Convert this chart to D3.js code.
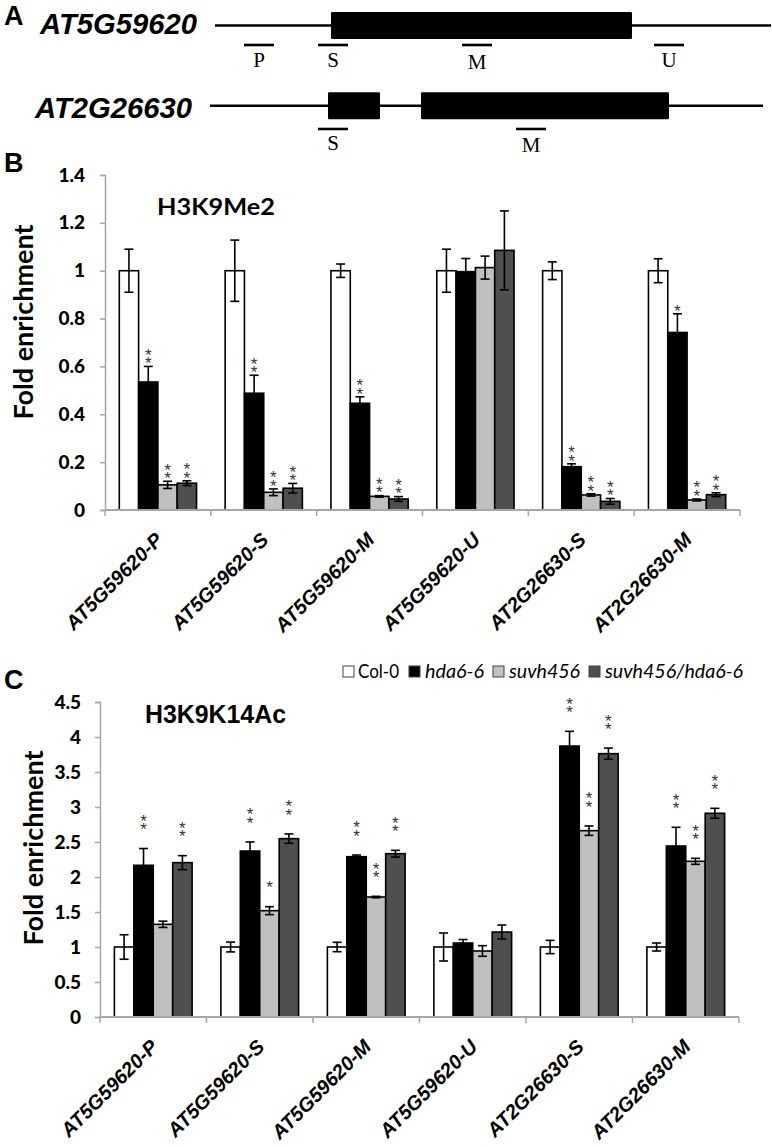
<!DOCTYPE html>
<html><head><meta charset="utf-8">
<script src="https://cdn.jsdelivr.net/npm/d3@7"></script>
<style>
html,body{margin:0;padding:0;background:#fff;}
svg{display:block;}
</style></head>
<body>
<script>
// ---------- DATA ----------
const categories = ["AT5G59620-P","AT5G59620-S","AT5G59620-M","AT5G59620-U","AT2G26630-S","AT2G26630-M"];
const series = ["Col-0","hda6-6","suvh456","suvh456/hda6-6"];

// Panel B: H3K9Me2
const bCol0   = [1.0, 1.0, 1.0, 1.0, 1.0, 1.0];
const bHda6   = [0.535, 0.488, 0.446, 0.996, 0.181, 0.742];
const bSuvh   = [0.105, 0.074, 0.057, 1.013, 0.063, 0.042];
const bDouble = [0.112, 0.091, 0.046, 1.085, 0.036, 0.064];
const bCol0Err   = [0.09, 0.128, 0.028, 0.09, 0.037, 0.05];
const bHda6Err   = [0.065, 0.075, 0.027, 0.055, 0.012, 0.078];
const bSuvhErr   = [0.015, 0.014, 0.003, 0.048, 0.005, 0.004];
const bDoubleErr = [0.01, 0.02, 0.01, 0.165, 0.012, 0.008];
const bStars = [[0,2,2,2],[0,2,2,2],[0,2,2,2],[0,0,0,0],[0,2,2,2],[0,1,2,2]];
const bTicks = [0, 0.2, 0.4, 0.6, 0.8, 1, 1.2, 1.4];

// Panel C: H3K9K14Ac
const cCol0   = [1.0, 1.0, 1.0, 1.0, 1.0, 1.0];
const cHda6   = [2.167, 2.371, 2.29, 1.057, 3.871, 2.443];
const cSuvh   = [1.324, 1.519, 1.714, 0.943, 2.662, 2.224];
const cDouble = [2.205, 2.548, 2.333, 1.214, 3.762, 2.91];
const cCol0Err   = [0.175, 0.07, 0.067, 0.2, 0.095, 0.057];
const cHda6Err   = [0.24, 0.13, 0.024, 0.05, 0.21, 0.267];
const cSuvhErr   = [0.045, 0.057, 0.01, 0.076, 0.067, 0.043];
const cDoubleErr = [0.1, 0.067, 0.048, 0.1, 0.08, 0.071];
const cStars = [[0,2,0,2],[0,2,1,2],[0,2,2,2],[0,0,0,0],[0,2,2,2],[0,2,2,2]];
const cTicks = [0, 0.5, 1, 1.5, 2, 2.5, 3, 3.5, 4, 4.5];

// Panel A: gene models (relative positions along the locus)
const gene1Name = "AT5G59620";
const gene1Span = [5, 561];
const gene1Exons = [[121, 422]];
const gene1Probes = [["P", 34, 64], ["S", 108, 138], ["M", 252, 282], ["U", 444, 474]];
const gene2Name = "AT2G26630";
const gene2Span = [0, 553];
const gene2Exons = [[118, 170], [211, 459]];
const gene2Probes = [["S", 108, 138], ["M", 306, 336]];

// ---------- STYLE ----------
const fills = ["#ffffff", "#000000", "#c0c0c0", "#4f4f4f"];
const W = 772, H = 1147;
const svg = d3.select("body").append("svg").attr("width", W).attr("height", H);

const bold = "'Liberation Sans', Arial, sans-serif";
const calib = "Lato, 'Open Sans', sans-serif";

// panel letters
[["A", 4, 25], ["B", 4, 172], ["C", 4, 689]].forEach(([t, x, y]) => {
  svg.append("text").attr("x", x).attr("y", y).text(t)
    .attr("font-family", bold).attr("font-weight", "bold").attr("font-size", 27);
});

// ---------- PANEL A ----------
const xA = d3.scaleLinear().domain([0, 560]).range([210, 770]);
function gene(name, labelX, baseline, lineY, span, exons, probes, probeY, probeLabelY) {
  svg.append("text").attr("x", labelX).attr("y", baseline).text(name)
    .attr("font-family", bold).attr("font-weight", "bold").attr("font-style", "italic")
    .attr("font-size", 29).attr("textLength", 157).attr("lengthAdjust", "spacingAndGlyphs");
  svg.append("line").attr("x1", xA(span[0])).attr("x2", xA(span[1]))
    .attr("y1", lineY).attr("y2", lineY).attr("stroke", "#000").attr("stroke-width", 2.4);
  svg.selectAll(null).data(exons).enter().append("rect")
    .attr("x", d => xA(d[0])).attr("width", d => xA(d[1]) - xA(d[0]))
    .attr("y", lineY - 13.5).attr("height", 27).attr("rx", 1.2).attr("fill", "#000");
  const g = svg.append("g");
  g.selectAll("line").data(probes).enter().append("line")
    .attr("x1", d => xA(d[1])).attr("x2", d => xA(d[2]))
    .attr("y1", probeY).attr("y2", probeY).attr("stroke", "#000").attr("stroke-width", 2.6);
  g.selectAll("text").data(probes).enter().append("text")
    .attr("x", d => (xA(d[1]) + xA(d[2])) / 2).attr("y", d => probeLabelY + (d[0] === "M" ? 2 : 0))
    .attr("text-anchor", "middle").text(d => d[0])
    .attr("font-family", "'Liberation Serif', 'Times New Roman', serif").attr("font-size", 21);
}
gene(gene1Name, 40, 34, 25.5, gene1Span, gene1Exons, gene1Probes, 45, 67);
gene(gene2Name, 35, 117.5, 105.7, gene2Span, gene2Exons, gene2Probes, 129, 149.5);

// ---------- BAR PANELS ----------
function barPanel(opt) {
  const {vals, errs, stars, ticks, yDom, yRange, xRange, title, titleX, titleY, titleFont, titleSize, titleLen,
         yTitleX, yTitleY, starGap, tickPad, labelDY} = opt;
  const y = d3.scaleLinear().domain(yDom).range(yRange);
  const x = d3.scaleBand().domain(categories).range(xRange).padding(0);
  const xs = d3.scaleBand().domain(series).range([0, x.bandwidth()]).paddingInner(0).paddingOuter(0.74);
  const y0 = y(0);
  const g = svg.append("g");

  // y axis
  const ya = g.append("g").attr("transform", `translate(${xRange[0]},0)`)
    .call(d3.axisLeft(y).tickValues(ticks).tickSize(5).tickPadding(tickPad).tickFormat(d3.format("")));
  ya.select(".domain").attr("stroke", "#a6a6a6").attr("stroke-width", 1.5);
  ya.selectAll(".tick line").attr("stroke", "#a6a6a6").attr("stroke-width", 1.5);
  ya.selectAll(".tick text").attr("font-family", calib).attr("font-weight", "900")
    .attr("font-size", 19).attr("fill", "#000");

  // bars
  const rows = categories.map((c, i) => series.map((s, j) => ({
    c, s, j, v: vals[j][i], e: errs[j][i], n: stars[i][j]
  })));
  const flat = rows.flat();
  g.selectAll("rect.bar").data(flat).enter().append("rect").attr("class", "bar")
    .attr("x", d => x(d.c) + xs(d.s)).attr("width", xs.bandwidth())
    .attr("y", d => y(d.v)).attr("height", d => y0 - y(d.v))
    .attr("fill", d => fills[d.j]).attr("stroke", "#000").attr("stroke-width", 1.6);

  // x axis
  g.append("line").attr("x1", xRange[0]).attr("x2", xRange[1]).attr("y1", y0).attr("y2", y0)
    .attr("stroke", "#a6a6a6").attr("stroke-width", 2);
  const bounds = categories.map(c => x(c)).concat([xRange[1]]);
  g.selectAll("line.xt").data(bounds).enter().append("line").attr("class", "xt")
    .attr("x1", d => d).attr("x2", d => d).attr("y1", y0).attr("y2", y0 + 6)
    .attr("stroke", "#a6a6a6").attr("stroke-width", 1.5);

  // error bars
  const eb = g.selectAll("g.eb").data(flat).enter().append("g").attr("class", "eb")
    .attr("stroke", "#000").attr("stroke-width", 1.6);
  const cx = d => x(d.c) + xs(d.s) + xs.bandwidth() / 2;
  eb.append("line").attr("x1", cx).attr("x2", cx).attr("y1", d => y(d.v + d.e)).attr("y2", d => y(d.v - d.e));
  eb.append("line").attr("x1", d => cx(d) - 4.5).attr("x2", d => cx(d) + 4.5)
    .attr("y1", d => y(d.v + d.e)).attr("y2", d => y(d.v + d.e));
  eb.append("line").attr("x1", d => cx(d) - 4.5).attr("x2", d => cx(d) + 4.5)
    .attr("y1", d => y(d.v - d.e)).attr("y2", d => y(d.v - d.e));

  // significance stars: one text per bar; run rotated upward, each glyph rotated back upright
  const starred = flat.filter(d => d.n > 0);
  const fs = 17;
  g.selectAll("text.star").data(starred).enter().append("text").attr("class", "star")
    .attr("transform", d => `translate(${cx(d) - 0.195 * fs},${y(d.v + d.e) - starGap + 0.575 * fs}) rotate(-90)`)
    .attr("rotate", "90").attr("letter-spacing", 1.7)
    .text(d => "*".repeat(d.n))
    .attr("font-family", bold).attr("font-size", fs).attr("fill", "#333");

  // category labels
  g.selectAll("text.cat").data(categories).enter().append("text").attr("class", "cat")
    .attr("transform", c => `translate(${x(c) + x.bandwidth() / 2 + 6},${y0 + labelDY}) rotate(-45)`)
    .attr("text-anchor", "end").text(c => c)
    .attr("font-family", bold).attr("font-weight", "bold").attr("font-style", "italic").attr("font-size", 20);

  // title
  svg.append("text").attr("x", titleX).attr("y", titleY).text(title)
    .attr("font-family", titleFont).attr("font-weight", "bold").attr("font-size", titleSize)
    .attr("textLength", titleLen).attr("lengthAdjust", "spacingAndGlyphs");
  // y title
  svg.append("text").attr("transform", `translate(${yTitleX},${yTitleY}) rotate(-90)`)
    .attr("text-anchor", "middle").text("Fold enrichment")
    .attr("font-family", calib).attr("font-weight", "bold").attr("font-size", 27)
    .attr("textLength", 195).attr("lengthAdjust", "spacingAndGlyphs");
}

barPanel({
  vals: [bCol0, bHda6, bSuvh, bDouble], errs: [bCol0Err, bHda6Err, bSuvhErr, bDoubleErr], stars: bStars,
  ticks: bTicks, yDom: [0, 1.4], yRange: [510, 175], xRange: [105, 740],
  title: "H3K9Me2", titleX: 157, titleY: 215, titleFont: calib, titleSize: 23, titleLen: 118,
  yTitleX: 33, yTitleY: 322, starGap: 7, tickPad: 15, labelDY: 31
});
barPanel({
  vals: [cCol0, cHda6, cSuvh, cDouble], errs: [cCol0Err, cHda6Err, cSuvhErr, cDoubleErr], stars: cStars,
  ticks: cTicks, yDom: [0, 4.5], yRange: [1017, 702], xRange: [100, 739],
  title: "H3K9K14Ac", titleX: 145, titleY: 723, titleFont: bold, titleSize: 25, titleLen: 141,
  yTitleX: 43, yTitleY: 848, starGap: 23, tickPad: 14, labelDY: 31
});

// ---------- LEGEND ----------
const legendItems = [
  { s: series[0], sq: 343, tx: 358, len: 41, it: false },
  { s: series[1], sq: 409, tx: 425, len: 59, it: true },
  { s: series[2], sq: 493, tx: 509, len: 71, it: true },
  { s: series[3], sq: 589, tx: 605, len: 138, it: true }
];
const lg = svg.append("g");
legendItems.forEach((d, i) => {
  lg.append("rect").attr("x", d.sq).attr("y", 666).attr("width", 11).attr("height", 11)
    .attr("fill", fills[i]).attr("stroke", "#404040").attr("stroke-width", 1);
  lg.append("text").attr("x", d.tx).attr("y", 678).text(d.s)
    .attr("font-family", calib).attr("font-size", 19).attr("font-style", d.it ? "italic" : "normal")
    .attr("textLength", d.len).attr("lengthAdjust", "spacingAndGlyphs");
});
</script>
</body></html>
